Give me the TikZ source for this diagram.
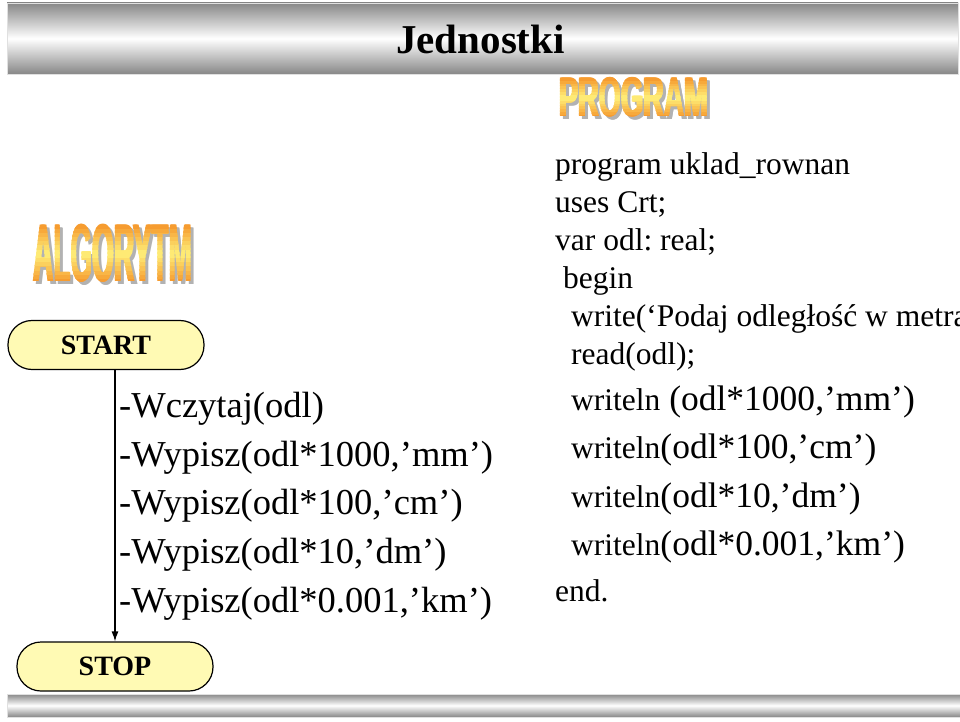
\documentclass[tikz,border=0pt]{standalone}
\usepackage{fontspec}
\setmainfont{Liberation Serif}
\newfontfamily\artfont{Liberation Sans}
\usepackage{graphicx}
\usetikzlibrary{arrows.meta,positioning}

\definecolor{termfill}{HTML}{FFFAB4}
\definecolor{artorange}{HTML}{F5962A}
\definecolor{artyellow}{HTML}{FFF07A}

% condensed bold letters for the two headings
\newcommand{\wordart}[3]{\scalebox{#2}[1]{\artfont\bfseries\fontsize{#1}{#1}\selectfont #3}}
% orange-yellow-orange letters, cut into thin bands: centre x, centre y, height, text
\newcommand{\artword}[4]{%
  \foreach \dx in {-0.8,0,0.8}{
    \node[inner sep=0pt,text=black!30] at (#1+3+\dx,#2-3) {#4};}
  \foreach \i in {0,...,13}{
    \pgfmathsetmacro\mix{abs(2*(\i+0.5)/14-1)*100}
    \begin{scope}
      \clip (#1-120,{#2-#3/2+\i*#3/14-0.3}) rectangle (#1+120,{#2-#3/2+(\i+1)*#3/14+0.3});
      \foreach \dx in {-0.8,0,0.8}{
        \node[inner sep=0pt,text=artorange!\mix!artyellow] at (#1+\dx,#2) {#4};}
    \end{scope}
  }}

\begin{document}
\begin{tikzpicture}[>={Latex[length=10pt,width=7pt]},x=1pt,y=1pt]
        \tikzset{term/.style={draw,fill=termfill,rounded corners=24pt,minimum width=196pt,minimum height=49pt,line width=1.2pt,font=\fontsize{28}{32}\selectfont\bfseries},
        bar/.style={top color=black!47,bottom color=black!47,middle color=white,draw=black!12},
        steps/.style={anchor=north west,inner sep=0pt,align=left,font=\fontsize{36.5}{48.7}\selectfont\frenchspacing},
        code/.style={anchor=north west,inner sep=0pt,align=left,font=\fontsize{31.5}{38}\selectfont\frenchspacing},
        codebig/.style={anchor=north west,inner sep=0pt,align=left,font=\fontsize{35.5}{48.5}\selectfont\frenchspacing},
        }
        \path[use as bounding box,clip] (0,0) rectangle (960,721);
        \shade[bar] (7,647) rectangle (958,718);
        \shade[bar] (7,4) rectangle (962,27);
        \node[anchor=base west,inner sep=0pt,font=\fontsize{41}{45}\selectfont\bfseries] (title) at (396,667) {Jednostki};
%%% headings
        \artword{113}{468}{59}{\wordart{82}{0.34}{ALGORYTM}}
        \artword{634}{624}{40}{\wordart{56}{0.51}{PROGRAM}}
%%% algorithm
        \node[term] (start) at (106,376) {START};
        \node[term] (stop) at (115,54.5) {STOP};
        \node[steps] (steps) at (119,329) {-Wczytaj(odl)\\-Wypisz(odl*1000,’mm’)\\-Wypisz(odl*100,’cm’)\\-Wypisz(odl*10,’dm’)\\-Wypisz(odl*0.001,’km’)};
%%% program
        \node[code] (head) at (555,568.5) {program uklad\_rownan\\uses Crt;\\var odl: real;\\\hspace*{8pt}begin\\\hspace*{16pt}write(‘Podaj odległość w metra\\\hspace*{16pt}read(odl);};
        \node[codebig] (body) at (555,335.6) {\hspace*{16pt}{\fontsize{31.5}{38}\selectfont writeln} (odl*1000,’mm’)\\\hspace*{16pt}{\fontsize{31.5}{38}\selectfont writeln}(odl*100,’cm’)\\\hspace*{16pt}{\fontsize{31.5}{38}\selectfont writeln}(odl*10,’dm’)\\\hspace*{16pt}{\fontsize{31.5}{38}\selectfont writeln}(odl*0.001,’km’)\\[-3pt]{\fontsize{31.5}{38}\selectfont end.}};
%%% paths
        \draw[->,line width=1.2pt] (stop.north |- start.south) -- (stop.north);
\end{tikzpicture}
\end{document}
